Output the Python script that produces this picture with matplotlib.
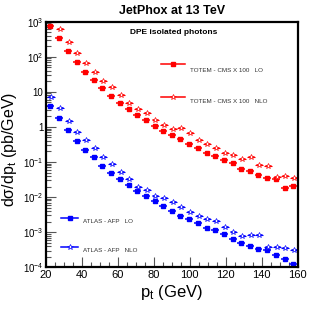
import numpy as np
import matplotlib
matplotlib.use("Agg")
import matplotlib.pyplot as plt
from matplotlib.ticker import FixedLocator, MultipleLocator, NullFormatter, FixedFormatter

plt.rcParams['font.family'] = ['Liberation Sans', 'DejaVu Sans']
plt.rcParams['mathtext.fontset'] = 'custom'
plt.rcParams['mathtext.rm'] = 'Liberation Sans'
plt.rcParams['mathtext.it'] = 'Liberation Sans:italic'
plt.rcParams['mathtext.default'] = 'regular'

# bin centres (GeV)
pt = [22.5, 27.3, 32.1, 37.0, 41.8, 46.6, 51.4, 56.3, 61.1, 65.9, 70.7, 75.5,
      80.4, 85.2, 90.0, 94.8, 99.6, 104.5, 109.3, 114.1, 118.9, 123.8, 128.6,
      133.4, 138.2, 143.0, 147.9, 152.7, 157.5]

# TOTEM - CMS (x100)
totem_lo = [760, 332, 144, 70, 36.4, 21.1, 12.5, 7.7, 4.86, 3.21, 2.21, 1.53,
            1.07, 0.774, 0.573, 0.441, 0.324, 0.244, 0.183, 0.147, 0.113,
            0.0912, 0.064, 0.055, 0.0432, 0.0348, 0.0319, 0.0184, 0.0206]
totem_nlo = [np.nan, 600, 261, 129, 67, 36.4, 20.8, 13.9, 8.2, 4.86, 3.21, 2.43,
             1.56, 1.16, 0.865, 0.906, 0.653, 0.421, 0.324, 0.244, 0.176,
             0.157, 0.121, 0.141, 0.0817, 0.0764, 0.0379, 0.039, 0.036]

# ATLAS - AFP
atlas_lo = [3.92, 1.82, 0.826, 0.407, 0.225, 0.135, 0.0789, 0.0499, 0.0321,
            0.0227, 0.0153, 0.0108, 0.00754, 0.00543, 0.00405, 0.00293,
            0.00243, 0.00178, 0.00128, 0.00115, 0.00087, 0.000628, 0.00048,
            0.00041, 0.000337, 0.000309, 0.000223, 0.000171, 0.000121]
atlas_nlo = [7.2, 3.37, 1.49, 0.725, 0.421, 0.244, 0.143, 0.0871, 0.0526,
             0.0337, 0.0193, 0.0155, 0.0110, 0.00937, 0.00711, 0.0053,
             0.00374, 0.00282, 0.00244, 0.00203, 0.00145, 0.00101, 0.000774,
             0.000826, 0.000826, 0.000376, 0.00037, 0.000362, 0.000309]

ytick_vals = [1e-4, 1e-3, 1e-2, 1e-1, 1, 10, 1e2, 1e3]
ytick_labels = ['$10^{-4}$', '$10^{-3}$', '$10^{-2}$', '$10^{-1}$', '1', '10',
                '$10^{2}$', '$10^{3}$']

fig = plt.figure(figsize=(3.15, 3.09), dpi=100)
ax = fig.add_axes([0.146, 0.135, 0.799, 0.795])

pt_nlo = [p + 0.5 for p in pt]
xe = 2.2

ax.errorbar(pt, totem_lo, xerr=xe, fmt='s', color='red', ms=2.8, lw=1.1, capsize=0)
ax.errorbar(pt_nlo, totem_nlo, xerr=xe, fmt='*', color='red', mfc='white',
            mew=0.5, ms=3.8, lw=0.8, capsize=0)
ax.errorbar(pt, atlas_lo, xerr=xe, fmt='s', color='blue', ms=2.8, lw=1.1, capsize=0)
ax.errorbar(pt_nlo, atlas_nlo, xerr=xe, fmt='*', color='blue', mfc='white',
            mew=0.5, ms=3.8, lw=0.8, capsize=0)

ax.set_yscale('log')
ax.set_xlim(20, 160)
ax.set_ylim(1e-4, 1e3)

ax.xaxis.set_major_locator(MultipleLocator(20))
ax.xaxis.set_minor_locator(MultipleLocator(5))
ax.yaxis.set_major_locator(FixedLocator(ytick_vals))
ax.yaxis.set_major_formatter(FixedFormatter(ytick_labels))
minors = [m * 10.0 ** e for e in range(-4, 3) for m in range(2, 10)]
ax.yaxis.set_minor_locator(FixedLocator(minors))
ax.yaxis.set_minor_formatter(NullFormatter())

ax.tick_params(which='both', direction='in', top=False, right=False,
               width=0.8, color='#555555')
ax.tick_params(axis='x', labelsize=8)
ax.tick_params(axis='y', labelsize=7)
ax.tick_params(which='major', length=7, pad=2)
ax.tick_params(which='minor', length=3.5)
for s in ax.spines.values():
    s.set_linewidth(1.6)

ax.set_xlabel('p$_{t}$ (GeV)', fontsize=12, labelpad=2)
ax.set_ylabel('d\u03c3/dp$_{t}$ (pb/GeV)', fontsize=11.5)
ax.yaxis.set_label_coords(-0.106, 0.48)

fig.text(0.546, 0.966, 'JetPhox at 13 TeV', ha='center', va='center',
         fontsize=9, fontweight='bold')
ax.text(0.509, 0.957, 'DPE isolated photons', transform=ax.transAxes,
        ha='center', va='center', fontsize=6, fontweight='bold')

# legend entries
leg = [
    (0.457, 0.552, 0.827, 0.803, 'red', 's', 'TOTEM - CMS X 100   LO'),
    (0.457, 0.552, 0.694, 0.674, 'red', '*', 'TOTEM - CMS X 100   NLO'),
    (0.060, 0.127, 0.199, 0.186, 'blue', 's', 'ATLAS - AFP   LO'),
    (0.060, 0.127, 0.084, 0.070, 'blue', '*', 'ATLAS - AFP   NLO'),
]
for x0, x1, yl, yt, c, m, lab in leg:
    ax.plot([x0, x1], [yl, yl], color=c, lw=1.1, transform=ax.transAxes)
    if m == 's':
        ax.plot([(x0 + x1) / 2], [yl], 's', color=c, ms=2.8, transform=ax.transAxes)
    else:
        ax.plot([(x0 + x1) / 2], [yl], '*', color=c, mfc='white', mew=0.5,
                ms=3.8, transform=ax.transAxes)
    ax.text(x1 + 0.02, yt, lab, transform=ax.transAxes, ha='left', va='center',
            fontsize=4.5, color='#333333')

fig.savefig('out.png', dpi=100)
